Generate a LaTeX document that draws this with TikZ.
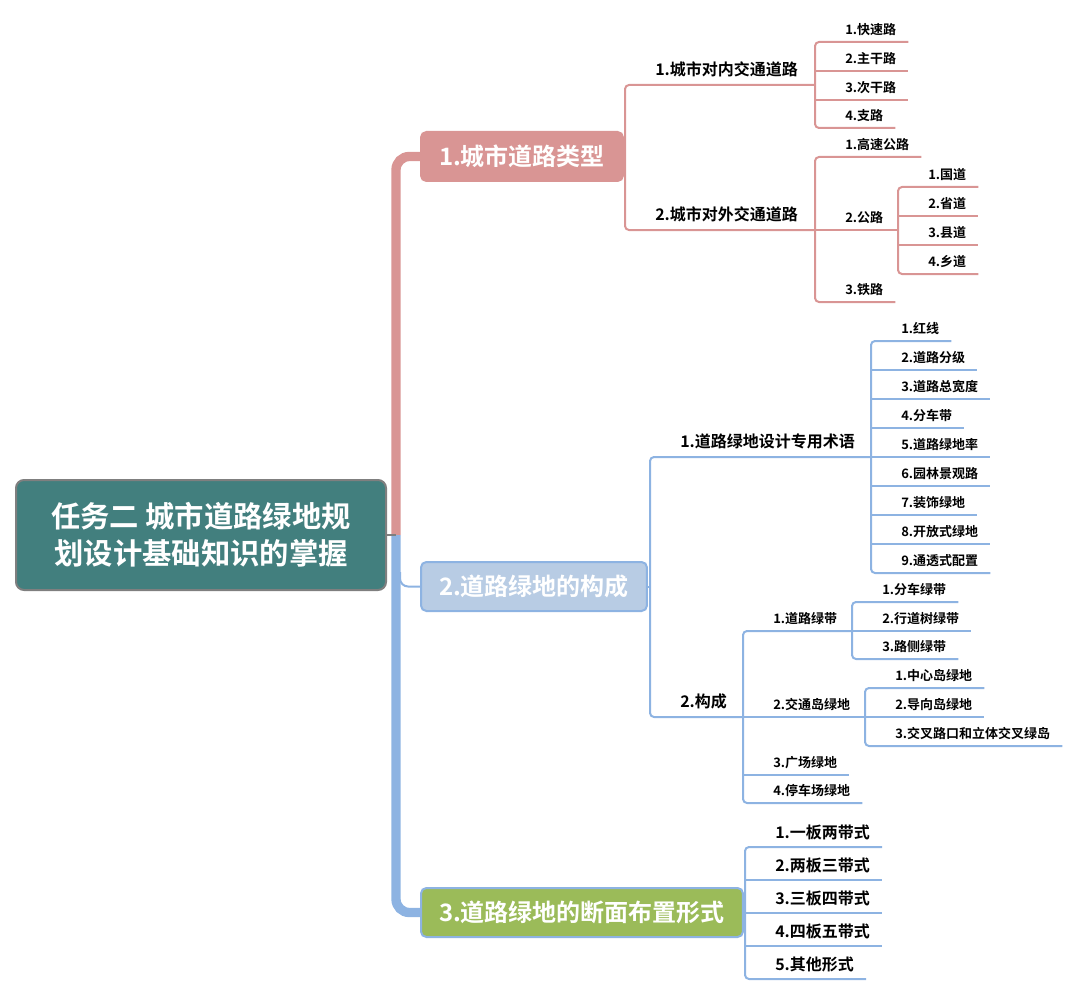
\documentclass[tikz,border=0pt]{standalone}
\usepackage{fontspec}
\setmainfont{Noto Sans CJK SC}[BoldFont={Noto Sans CJK SC Bold}]
\definecolor{rosy}{HTML}{D99594}
\definecolor{skyline}{HTML}{8DB3E2}
\definecolor{paleblue}{HTML}{B8CCE4}
\definecolor{olive}{HTML}{9BBB59}
\definecolor{teal}{HTML}{427F7E}
\definecolor{rootedge}{HTML}{7F7F7F}
\begin{document}
\begin{tikzpicture}[x=0.75pt,y=-0.75pt,
  rootbox/.style={draw=rootedge, line width=1.5pt, fill=teal, rounded corners=6pt, text=white, align=center,
    minimum width=277.5pt, minimum height=82.5pt, font=\fontsize{22pt}{27.75pt}\selectfont\bfseries},
  mainbox/.style={line width=1.5pt, rounded corners=4pt, text=white, anchor=west, inner xsep=13.5pt,
    minimum height=36.75pt, font=\fontsize{18pt}{22pt}\selectfont\bfseries},
  leaf/.style={anchor=south west, inner xsep=0pt, inner ysep=0pt, text depth=5.25pt,
    font=\fontsize{9.75pt}{12pt}\selectfont\bfseries,
    execute at begin node={\hspace*{22.5pt}}, execute at end node={\hspace*{9pt}}},
  midleaf/.style={leaf, text depth=6.75pt, font=\fontsize{12pt}{14pt}\selectfont\bfseries},
  bigleaf/.style={leaf, text depth=6pt, font=\fontsize{12pt}{14pt}\selectfont\bfseries},
  pkline/.style={draw=rosy, line width=1.5pt, rounded corners=3pt},
  blline/.style={draw=skyline, line width=1.5pt, rounded corners=3pt}]
\useasboundingbox (0,0) rectangle (1078,995);

% root and main branches
\node[rootbox] (root) at (201,535) {任务二 城市道路绿地规\\划设计基础知识的掌握};
\node[mainbox, fill=rosy, draw=rosy] (b1) at (420,156.5) {1.城市道路类型};
\node[mainbox, fill=paleblue, draw=skyline] (b2) at (420,586.5) {2.道路绿地的构成};
\node[mainbox, fill=olive, draw=skyline] (b3) at (420,912.5) {3.道路绿地的断面布置形式};

\coordinate (hub) at (396,535);
\coordinate (hub2) at (400,572);
\draw[rosy, line width=7pt, rounded corners=10pt] (hub) -- (hub |- b1.west) -- (b1.west);
\draw[skyline, line width=7pt, rounded corners=10pt] (hub) -- (hub |- b3.west) -- (b3.west);
\draw[blline, rounded corners=6pt] (hub2) |- (b2.west);
\draw[rootedge, line width=1.5pt] (root.east) -- (hub);

% 1. roads
\node[midleaf] (c1) at (625,85) {1.城市对内交通道路};
\node[midleaf] (c2) at (625,230) {2.城市对外交通道路};
\node[leaf] (l11) at (815,42) {1.快速路};
\node[leaf] (l12) at (815,71) {2.主干路};
\node[leaf] (l13) at (815,100) {3.次干路};
\node[leaf] (l14) at (815,128) {4.支路};
\node[leaf] (l21) at (815,157) {1.高速公路};
\node[leaf] (l22) at (815,230) {2.公路};
\node[leaf] (l23) at (815,302) {3.铁路};
\node[leaf] (g1) at (898,187) {1.国道};
\node[leaf] (g2) at (898,216) {2.省道};
\node[leaf] (g3) at (898,245) {3.县道};
\node[leaf] (g4) at (898,274) {4.乡道};

\draw[pkline] (b1.east) -- (b1.east -| c1.south west);
\draw[pkline] (c1.south -| l11.south west) -- (c1.south west) -- (c2.south west) -- (c2.south -| l21.south west);
\draw[pkline] (l11.south east) -- (l11.south west) -- (l14.south west) -- (l14.south east);
\draw[pkline] (l12.south west) -- (l12.south east);
\draw[pkline] (l13.south west) -- (l13.south east);
\draw[pkline] (l21.south east) -- (l21.south west) -- (l23.south west) -- (l23.south east);
\draw[pkline] (l22.south west) -- (l22.south west -| g1.south west);
\draw[pkline] (g1.south east) -- (g1.south west) -- (g4.south west) -- (g4.south east);
\draw[pkline] (g2.south west) -- (g2.south east);
\draw[pkline] (g3.south west) -- (g3.south east);

% 2. green space
\node[midleaf] (d1) at (650,457) {1.道路绿地设计专用术语};
\node[midleaf] (d2) at (650,717) {2.构成};
\foreach \t [count=\i] in {1.红线,2.道路分级,3.道路总宽度,4.分车带,5.道路绿地率,6.园林景观路,7.装饰绿地,8.开放式绿地,9.通透式配置}
  \node[leaf] (t\i) at (871,312+29*\i) {\t};
\node[leaf] (e1) at (743,631) {1.道路绿带};
\node[leaf] (e2) at (743,717) {2.交通岛绿地};
\node[leaf] (e3) at (743,775) {3.广场绿地};
\node[leaf] (e4) at (743,803) {4.停车场绿地};
\node[leaf] (f1) at (852,602) {1.分车绿带};
\node[leaf] (f2) at (852,631) {2.行道树绿带};
\node[leaf] (f3) at (852,659) {3.路侧绿带};
\node[leaf] (h1) at (865,688) {1.中心岛绿地};
\node[leaf] (h2) at (865,717) {2.导向岛绿地};
\node[leaf] (h3) at (865,746) {3.交叉路口和立体交叉绿岛};

\draw[blline] (b2.east) -- (b2.east -| d1.south west);
\draw[blline] (d1.south -| t1.south west) -- (d1.south west) -- (d2.south west) -- (d2.south -| e1.south west);
\draw[blline] (t1.south east) -- (t1.south west) -- (t9.south west) -- (t9.south east);
\foreach \i in {2,...,8}
  \draw[blline] (t\i.south west) -- (t\i.south east);
\draw[blline] (e1.south -| f1.south west) -- (e1.south west) -- (e4.south west) -- (e4.south east);
\draw[blline] (e2.south west) -- (e2.south west -| h1.south west);
\draw[blline] (e3.south west) -- (e3.south east);
\draw[blline] (f1.south east) -- (f1.south west) -- (f3.south west) -- (f3.south east);
\draw[blline] (f2.south west) -- (f2.south east);
\draw[blline] (h1.south east) -- (h1.south west) -- (h3.south west) -- (h3.south east);
\draw[blline] (h2.south west) -- (h2.south east);

% 3. cross sections
\foreach \t [count=\i] in {1.一板两带式,2.两板三带式,3.三板四带式,4.四板五带式,5.其他形式}
  \node[bigleaf] (k\i) at (745,814+33*\i) {\t};
\draw[blline] (b3.east) -- (b3.east -| k1.south west);
\draw[blline] (k1.south east) -- (k1.south west) -- (k5.south west) -- (k5.south east);
\foreach \i in {2,3,4}
  \draw[blline] (k\i.south west) -- (k\i.south east);
\end{tikzpicture}
\end{document}
